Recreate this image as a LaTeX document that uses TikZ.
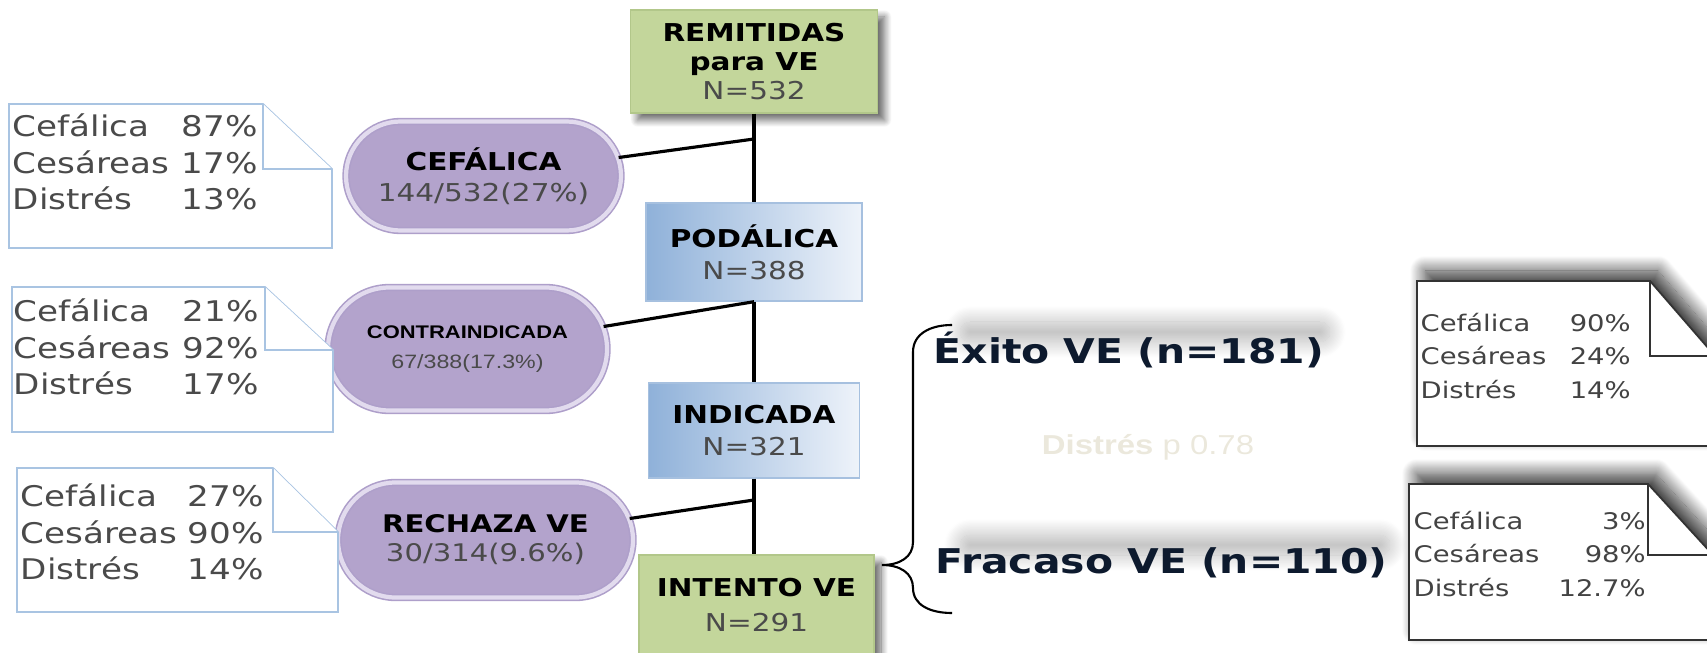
\documentclass[tikz,border=0pt]{standalone}
\usepackage{fontspec}
\setmainfont{DejaVu Sans}[FakeStretch=1.2]
\newfontfamily\arialfont{Liberation Sans}[FakeStretch=1.2]
\usetikzlibrary{positioning, shapes.misc, shadows.blur}

\definecolor{boxgreen}{HTML}{C3D69B}
\definecolor{greenline}{HTML}{B2C78A}
\definecolor{podblue}{HTML}{8FB1D9}
\definecolor{podlight}{HTML}{EEF3FA}
\definecolor{podline}{HTML}{A6C0DF}
\definecolor{lavfill}{HTML}{B3A3CC}
\definecolor{lavline}{HTML}{AE9FCA}
\definecolor{lavglow}{HTML}{E2DBEE}
\definecolor{noteblue}{HTML}{A9C4E2}
\definecolor{notegray}{HTML}{333333}
\definecolor{textgray}{HTML}{4A4A4A}
\definecolor{navy}{HTML}{0D1A2E}
\definecolor{faint}{HTML}{EBE8DC}

\tikzset{
  greenbox/.style={rectangle, fill=boxgreen, draw=greenline, line width=0.4pt, align=center,
    blur shadow={shadow xshift=0.07cm, shadow yshift=-0.07cm, shadow blur radius=0.07cm,
      shadow blur steps=12, shadow opacity=60}},
  bluebox/.style={rectangle, left color=podblue, right color=podlight, draw=podline, line width=0.4pt, align=center},
  lavnode/.style={rounded rectangle, fill=lavfill, draw=lavline, double=lavglow, double distance=1.2pt,
    line width=0.45pt, align=center, inner sep=0pt},
  lightnote/.style={draw=noteblue, fill=white, line width=0.5pt},
  darknote/.style={draw=notegray, fill=white, line width=0.5pt,
    blur shadow={shadow xshift=0.08cm, shadow yshift=0.1cm, shadow blur radius=0.15cm,
      shadow blur steps=20, shadow opacity=80}},
  notetext/.style={anchor=west, align=left, inner sep=0pt, text=textgray, font=\fontsize{8.1}{10.3}\selectfont},
  smalltext/.style={anchor=west, align=left, inner sep=0pt, text=textgray!90!black, font=\fontsize{6.5}{9.4}\selectfont},
  bigtext/.style={anchor=west, inner sep=0pt, text=navy, font=\fontsize{9.7}{11}\selectfont\bfseries},
  smudge/.style={blur shadow={shadow xshift=0cm, shadow yshift=0cm, shadow blur radius=0.16cm,
      shadow blur extra rounding=0.1cm, shadow blur steps=24, shadow opacity=28}},
  link/.style={line width=0.9pt},
  brace/.style={line width=0.6pt}
}

\begin{document}
\begin{tikzpicture}
  \useasboundingbox (0,0) rectangle (17.07,6.52);
  \clip (0,0) rectangle (17.07,6.52);

  % Main column
  \node[greenbox, minimum width=2.47cm, minimum height=1.03cm, font=\fontsize{7}{8.3}\selectfont]
    (remitidas) at (7.54,5.905) {\textbf{REMITIDAS}\\\textbf{para VE}\\\textcolor{textgray}{N=532}};
  \node[bluebox, minimum width=2.16cm, minimum height=0.98cm, font=\fontsize{7}{9.1}\selectfont]
    (podalica) at (7.54,4.00) {\textbf{PODÁLICA}\\\textcolor{textgray}{N=388}};
  \node[bluebox, minimum width=2.11cm, minimum height=0.95cm, font=\fontsize{7}{9.1}\selectfont]
    (indicada) at (7.54,2.215) {\textbf{INDICADA}\\\textcolor{textgray}{N=321}};
  \node[greenbox, minimum width=2.35cm, minimum height=1.0cm, font=\fontsize{7}{9.7}\selectfont]
    (intento) at (7.565,0.47) {\textbf{INTENTO VE}\\\textcolor{textgray}{N=291}};

  % Branches
  \node[lavnode, minimum width=2.75cm, minimum height=1.09cm, font=\fontsize{7}{8.9}\selectfont]
    (cef) at (4.835,4.76) {\textbf{CEFÁLICA}\\\textcolor{textgray}{144/532(27\%)}};
  \node[lavnode, minimum width=2.79cm, minimum height=1.23cm, font=\arialfont\fontsize{5.2}{8.5}\selectfont]
    (contra) at (4.675,3.03) {\textbf{CONTRAINDICADA}\\\textcolor{textgray}{\fontsize{5.5}{8.5}\selectfont 67/388(17.3\%)}};
  \node[lavnode, minimum width=2.95cm, minimum height=1.15cm, font=\fontsize{6.9}{8.3}\selectfont]
    (rechaza) at (4.855,1.12) {\textbf{RECHAZA VE}\\\textcolor{textgray}{30/314(9.6\%)}};

  \coordinate (j1) at (7.54,5.13);
  \coordinate (j3) at (7.54,1.52);

  % Trunk and branch lines
  \draw[link] (remitidas.south) -- (podalica.north);
  \draw[link] (podalica.south) -- (indicada.north);
  \draw[link] (indicada.south) -- (indicada.south |- intento.north);
  \draw[link] (cef) -- (j1);
  \draw[link] (contra) -- (podalica.south);
  \draw[link] (rechaza) -- (j3);

  % Notes on the left
  \draw[lightnote] (0.09,5.48) -- (2.63,5.48) -- (3.32,4.83) -- (3.32,4.04) -- (0.09,4.04) -- cycle;
  \draw[lightnote] (2.63,5.48) -- (2.63,4.83) -- (3.32,4.83);
  \node[notetext, text width=2.45cm] (note1) at (0.12,4.90) {Cefálica\hfill 87\%\\Cesáreas\hfill 17\%\\Distrés\hfill 13\%};

  \draw[lightnote] (0.12,3.65) -- (2.65,3.65) -- (3.33,3.02) -- (3.33,2.20) -- (0.12,2.20) -- cycle;
  \draw[lightnote] (2.65,3.65) -- (2.65,3.02) -- (3.33,3.02);
  \node[notetext, text width=2.45cm] (note2) at (0.13,3.05) {Cefálica\hfill 21\%\\Cesáreas\hfill 92\%\\Distrés\hfill 17\%};

  \draw[lightnote] (0.17,1.84) -- (2.73,1.84) -- (3.38,1.20) -- (3.38,0.40) -- (0.17,0.40) -- cycle;
  \draw[lightnote] (2.73,1.84) -- (2.73,1.20) -- (3.38,1.20);
  \node[notetext, text width=2.43cm] (note3) at (0.20,1.20) {Cefálica\hfill 27\%\\Cesáreas\hfill 90\%\\Distrés\hfill 14\%};

  % Outcome brace
  \coordinate (bracetip) at (8.82,0.87);
  \draw[brace] (9.52,3.27) .. controls (9.30,3.27) and (9.13,3.18) .. (9.13,3.00)
    -- (9.13,1.10) .. controls (9.13,0.95) and (9.00,0.87) .. (bracetip)
    .. controls (9.00,0.87) and (9.13,0.79) .. (9.13,0.64)
    .. controls (9.13,0.47) and (9.30,0.39) .. (9.52,0.39);

  % Blurred smudges behind the outcomes
  \path[smudge] (9.60,3.10) rectangle (13.30,3.30);
  \path[smudge] (9.60,0.97) rectangle (13.90,1.17);

  \node[bigtext] (exito) at (9.33,3.02) {Éxito VE (n=181)};
  \node[bigtext] (fracaso) at (9.35,0.89) {Fracaso VE (n=110)};
  \node[text=faint, font=\arialfont\fontsize{7.8}{9}\selectfont] (pval) at (11.48,2.05) {\textbf{Distrés} p 0.78};

  % Notes on the right
  \draw[darknote] (14.17,3.71) -- (16.50,3.71) -- (17.15,2.96) -- (17.15,2.06) -- (14.17,2.06) -- cycle;
  \draw[notegray, line width=0.5pt] (16.50,3.71) -- (16.50,2.96) -- (17.15,2.96);
  \node[smalltext, text width=2.10cm] (note4) at (14.20,2.96) {Cefálica\hfill 90\%\\Cesáreas\hfill 24\%\\Distrés\hfill 14\%};

  \draw[darknote] (14.09,1.68) -- (16.48,1.68) -- (17.13,0.97) -- (17.13,0.12) -- (14.09,0.12) -- cycle;
  \draw[notegray, line width=0.5pt] (16.48,1.68) -- (16.48,0.97) -- (17.13,0.97);
  \node[smalltext, text width=2.32cm] (note5) at (14.13,0.98) {Cefálica\hfill 3\%\\Cesáreas\hfill 98\%\\Distrés\hfill 12.7\%};
\end{tikzpicture}
\end{document}
